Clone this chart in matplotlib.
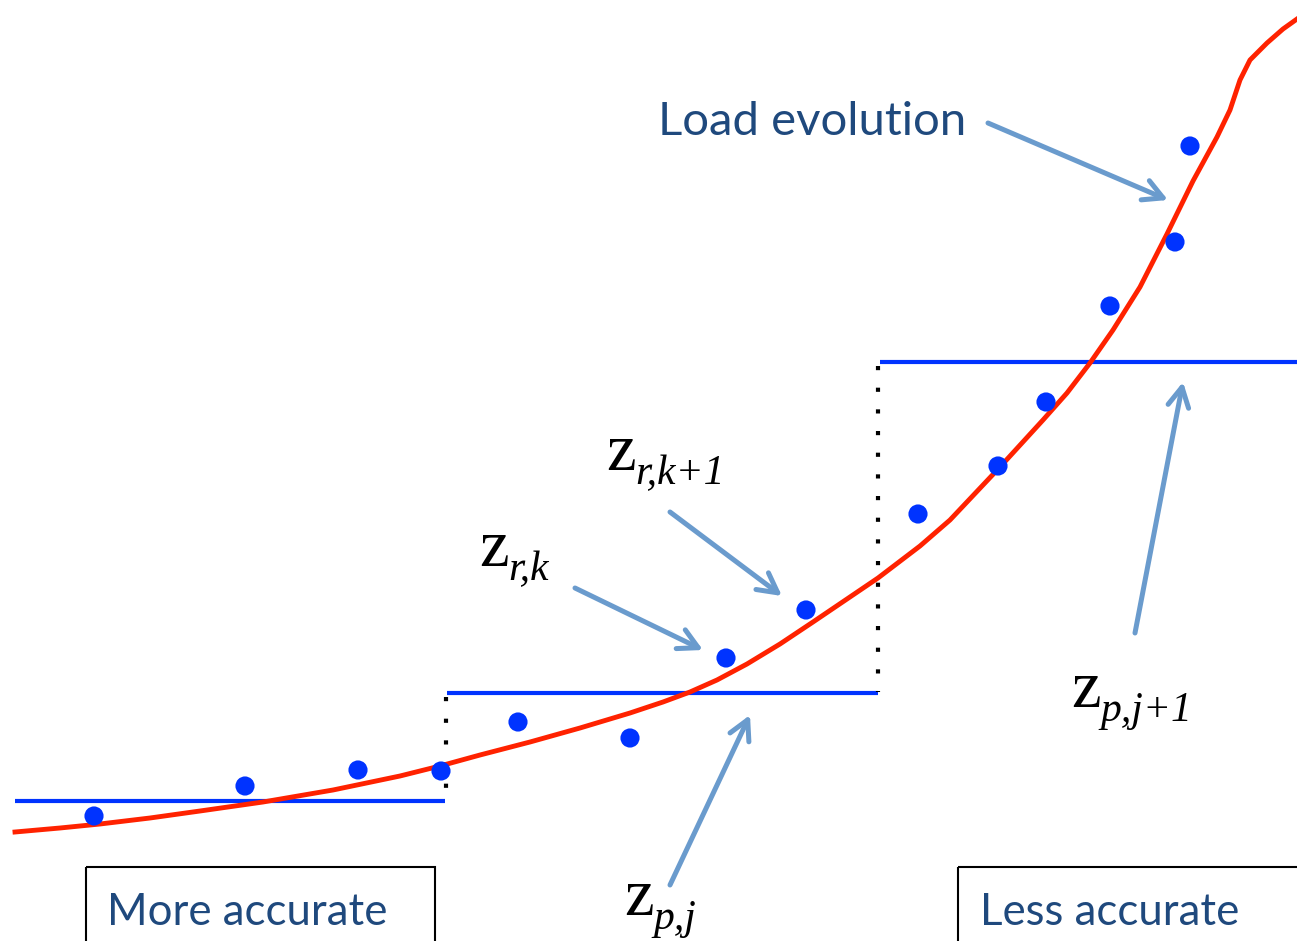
import numpy as np
import matplotlib.pyplot as plt
from matplotlib.patches import Rectangle

# Data (in picture coordinates, y grows downward)
curve_x = [15, 60, 100, 150, 200, 263, 333, 400, 440, 480, 530, 580, 630, 663,
           690, 717, 747, 780, 813, 847, 878, 920, 950, 1000, 1043, 1067, 1090,
           1113, 1140, 1167, 1193, 1217, 1230, 1240, 1250, 1267, 1283, 1297]
curve_y = [832, 828, 824, 818, 811, 802, 790, 776, 766, 755, 742, 728, 713, 702,
           692, 680, 664, 644, 622, 599, 578, 546, 520, 467, 420, 393, 363,
           330, 287, 234, 181, 137, 110, 80, 60, 43, 29, 19]

dots_x = [94, 245, 358, 441, 518, 630, 726, 806, 918, 998, 1046, 1110, 1175, 1190]
dots_y = [816, 786, 770, 771, 722, 738, 658, 610, 514, 466, 402, 306, 242, 146]

step_start = [15, 447, 880]
step_end = [445, 878, 1297]
step_level = [801, 693, 362]

jump_x = [446, 878]
jump_top = [697, 366]
jump_bottom = [792, 692]

sym_main = ['z', 'z', 'z', 'z']
sym_sub = ['r,k+1', 'r,k', 'p,j', 'p,j+1']
sym_pos = [(606, 470), (479, 566), (624, 915), (1071, 707)]

arrow_tail = [(988, 123), (670, 512), (575, 588), (670, 885), (1135, 633)]
arrow_head = [(1168, 200), (782, 596), (703, 650), (750, 715), (1183, 382)]

blue = '#0033ff'
red = '#ff2200'
arrow_col = '#6a9bcd'
text_col = '#1f497d'

fig = plt.figure(figsize=(12.97, 9.41), dpi=100)
ax = fig.add_axes([0, 0, 1, 1])
ax.set_xlim(0, 1297)
ax.set_ylim(941, 0)
ax.axis('off')

# step levels
for x0, x1, y in zip(step_start, step_end, step_level):
    ax.plot([x0, x1], [y, y], color=blue, lw=3.0, solid_capstyle='butt', zorder=2)

# dotted jumps
for x, y0, y1 in zip(jump_x, jump_top, jump_bottom):
    ax.plot([x, x], [y0, y1], color='black', lw=3.0, linestyle=(0, (1, 4.2)),
            dash_capstyle='butt', zorder=2)

# load curve
ax.plot(curve_x, curve_y, color=red, lw=3.5, zorder=3, solid_joinstyle='round')

# samples
ax.scatter(dots_x, dots_y, s=190, color=blue, edgecolors='none', zorder=4)

# arrows
for (tx, ty), (hx, hy) in zip(arrow_tail, arrow_head):
    ax.annotate('', xy=(hx, hy), xytext=(tx, ty),
                arrowprops=dict(arrowstyle='->,head_length=1.4,head_width=0.75',
                                lw=3.6, color=arrow_col, shrinkA=0, shrinkB=0))

# z labels: upright z, italic subscript
for m, s, (x, y) in zip(sym_main, sym_sub, sym_pos):
    ax.text(x, y, m, fontsize=48, family='Liberation Serif', color='black',
            ha='left', va='baseline')
    ax.text(x + 29, y + 14, s, fontsize=30, family='Liberation Serif',
            style='italic', color='black', ha='left', va='baseline')

ax.text(658, 135, 'Load evolution', fontsize=34, family='Lato', color=text_col,
        ha='left', va='baseline')

# boxes
ax.add_patch(Rectangle((86, 867), 349, 120, fill=False, edgecolor='black', lw=1.5))
ax.add_patch(Rectangle((958, 867), 400, 120, fill=False, edgecolor='black', lw=1.5))
ax.text(107, 925, 'More accurate', fontsize=31.5, family='Lato', color=text_col,
        ha='left', va='baseline')
ax.text(980, 925, 'Less accurate', fontsize=31.5, family='Lato', color=text_col,
        ha='left', va='baseline')

fig.savefig('out.png', dpi=100)
